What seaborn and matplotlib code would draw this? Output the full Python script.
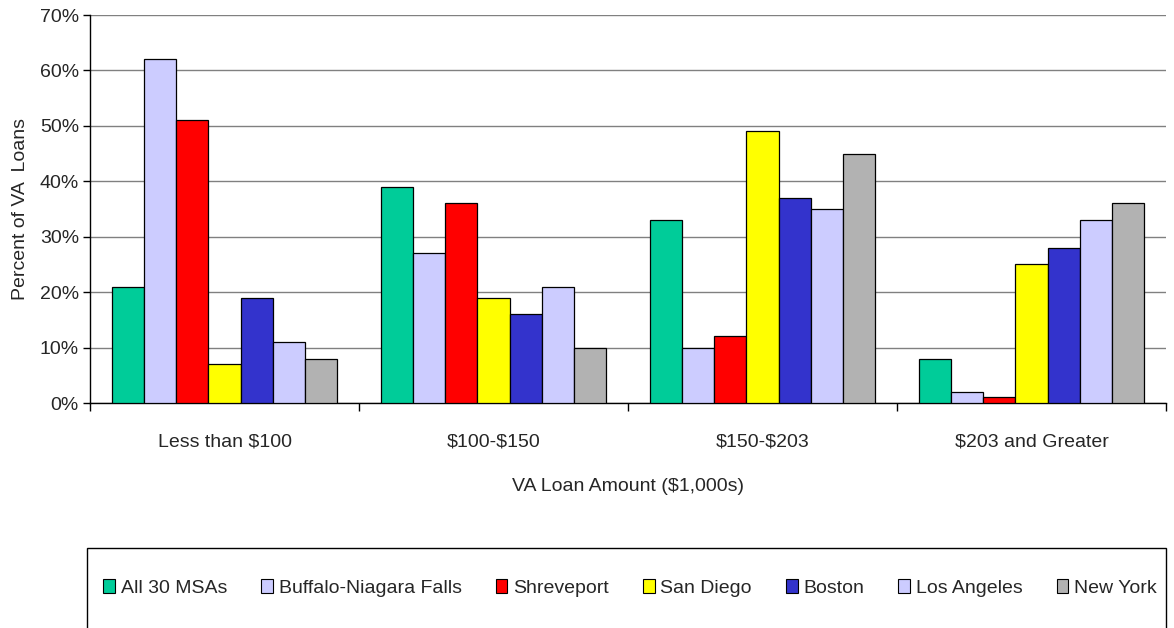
import matplotlib
matplotlib.use("Agg")
import matplotlib.pyplot as plt
import seaborn as sns
import pandas as pd
from matplotlib.patches import Rectangle, Patch
from matplotlib.ticker import FixedLocator, PercentFormatter

categories = ["Less than $100", "$100-$150", "$150-$203", "$203 and Greater"]
series = ["All 30 MSAs", "Buffalo-Niagara Falls", "Shreveport", "San Diego",
          "Boston", "Los Angeles", "New York"]
values = {
    "All 30 MSAs":           [21, 39, 33, 8],
    "Buffalo-Niagara Falls": [62, 27, 10, 2],
    "Shreveport":            [51, 36, 12, 1],
    "San Diego":             [7, 19, 49, 25],
    "Boston":                [19, 16, 37, 28],
    "Los Angeles":           [11, 21, 35, 33],
    "New York":              [8, 10, 45, 36],
}
colors = ["#00CC99", "#CCCCFF", "#FF0000", "#FFFF00", "#3333CC", "#CCCCFF", "#B2B2B2"]

rows = []
for s in series:
    for c, v in zip(categories, values[s]):
        rows.append({"Category": c, "Series": s, "Value": v})
df = pd.DataFrame(rows)

sns.set_theme(style="white")
plt.rcParams["font.family"] = ["Liberation Sans", "DejaVu Sans"]
plt.rcParams["text.parse_math"] = False

W, H = 1174, 628
fig = plt.figure(figsize=(W / 100, H / 100), dpi=100)
ax = fig.add_axes([90 / W, 1 - 403 / H, (1166 - 90) / W, (403 - 15) / H])

sns.barplot(data=df, x="Category", y="Value", hue="Series", order=categories,
            hue_order=series, palette=colors, saturation=1, width=0.833, gap=0,
            edgecolor="black", linewidth=0.9, ax=ax, legend=False, zorder=3)

ax.set_xlim(-0.5, 3.5)
ax.set_ylim(0, 70)
ax.yaxis.set_major_locator(FixedLocator(range(0, 71, 10)))
ax.yaxis.set_major_formatter(PercentFormatter(decimals=0))
ax.grid(axis="y", color="#808080", linewidth=1.0, zorder=0)
ax.grid(axis="x", visible=False)

for side in ["top", "right"]:
    ax.spines[side].set_visible(False)
for side in ["left", "bottom"]:
    ax.spines[side].set_color("black")
    ax.spines[side].set_linewidth(1.0)

ax.tick_params(axis="y", which="major", direction="out", length=5, width=1,
               color="black", labelsize=14, pad=3, left=True)
ax.tick_params(axis="x", which="major", length=0, labelsize=14, pad=22)
ax.xaxis.set_minor_locator(FixedLocator([-0.5, 0.5, 1.5, 2.5, 3.5]))
ax.tick_params(axis="x", which="minor", direction="out", length=6, width=1,
               color="black", bottom=True)

ax.set_xlabel("VA Loan Amount ($1,000s)", fontsize=14, labelpad=20)
ax.set_ylabel("Percent of VA  Loans", fontsize=14, labelpad=8)

# legend box
fig.patches.append(Rectangle((87 / W, 1 - 640 / H), (1166 - 87) / W, (640 - 548) / H,
                             transform=fig.transFigure, facecolor="white",
                             edgecolor="black", linewidth=1.0))
handles = [Patch(facecolor=c, edgecolor="black", linewidth=0.8) for c in colors]
fig.legend(handles, series, loc="center", bbox_to_anchor=(630 / W, 1 - 588 / H),
           ncol=7, frameon=False, fontsize=14, handlelength=0.6,
           handleheight=0.75, handletextpad=0.3, columnspacing=1.75)

fig.savefig("out.png", dpi=100)
